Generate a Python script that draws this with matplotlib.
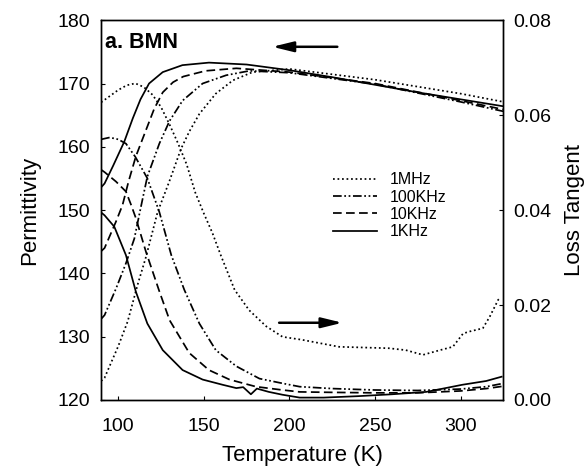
import matplotlib
matplotlib.use('Agg')
import matplotlib.pyplot as plt
from matplotlib.lines import Line2D

plt.rcParams['font.family'] = ['Liberation Sans', 'DejaVu Sans']

# permittivity (left axis)
T_p1k = [90, 92, 97, 103.5, 108.5, 113, 118, 126, 137.5, 153, 175, 200, 225, 250, 275, 300, 325]
p_1k = [153.6, 154.2, 157, 160.8, 164.5, 167.5, 170, 171.8, 172.9, 173.3, 173.0, 172.1, 171.0, 169.8, 168.6, 167.5, 166.4]

T_p10k = [90, 92, 98.7, 102.5, 106, 110.3, 116, 121, 126, 132, 138, 151, 169, 200, 250, 300, 325]
p_10k = [143.5, 144, 148.2, 150.8, 154.5, 158.5, 162.5, 166, 168.6, 170.2, 171.1, 172.0, 172.4, 171.8, 170.0, 167.3, 165.9]

T_p100k = [90, 92, 98.7, 104.5, 109.4, 112.3, 117, 124, 130, 137.6, 149.3, 163, 176.6, 200, 250, 300, 325]
p_100k = [132.8, 133.4, 137.6, 141.6, 145.5, 149.3, 155.3, 160.5, 164.1, 167.3, 170.0, 171.3, 172.0, 171.7, 169.9, 167.1, 165.6]

T_p1M = [90, 92, 100, 105.5, 111.3, 116.2, 123, 129.8, 136.7, 141.5, 147.4, 157, 167, 178.5, 200, 250, 300, 325]
p_1M = [123, 123.5, 128.5, 132.4, 138.2, 142.6, 149.7, 154.5, 159.7, 162.4, 165.2, 168.4, 170.5, 171.8, 172.3, 170.6, 168.4, 167.1]

# loss tangent (right axis)
T_l1k = [90, 92, 97.7, 104.5, 110.3, 117, 126, 137.6, 149.3, 161, 169, 173, 177.5, 181, 188, 196, 206,
         220, 240, 260, 280, 301, 315, 324]
l_1k = [0.0395, 0.0389, 0.0365, 0.0305, 0.0228, 0.0161, 0.0105, 0.0063, 0.0043, 0.0032, 0.0025, 0.0027,
        0.0012, 0.0024, 0.0017, 0.0011, 0.0005, 0.0005, 0.0008, 0.0012, 0.0017, 0.0032, 0.0040, 0.0049]

T_l10k = [90, 92, 98.7, 104.5, 107.5, 110.3, 116.2, 124, 130, 141.5, 153, 165, 180.5, 196, 206, 225, 250,
          275, 300, 315, 325]
l_10k = [0.0485, 0.0480, 0.0460, 0.0439, 0.0411, 0.0383, 0.0312, 0.0229, 0.0168, 0.0099, 0.0063, 0.0043,
         0.0028, 0.0021, 0.0017, 0.0016, 0.0015, 0.0015, 0.0019, 0.0024, 0.0029]

T_l100k = [90, 95, 100, 104.5, 110, 117, 124, 131, 138.6, 147.4, 157, 169, 182.5, 196, 206, 225, 250, 275,
           300, 315, 325]
l_100k = [0.0549, 0.0553, 0.0549, 0.0540, 0.0512, 0.0467, 0.0396, 0.0305, 0.0232, 0.0161, 0.0105, 0.0071,
          0.0045, 0.0035, 0.0028, 0.0024, 0.0021, 0.0020, 0.0023, 0.0028, 0.0035]

T_l1M = [90, 95, 100, 105, 110, 115, 120, 125, 130, 135, 140, 145, 150, 155, 160, 168, 176.5, 186.5, 196,
         207, 229, 258, 268, 278, 288, 295.5, 301.5, 305, 313, 317, 322, 323.5]
l_1M = [0.0627, 0.0640, 0.0653, 0.0663, 0.0667, 0.0659, 0.0643, 0.0617, 0.0580, 0.0540, 0.0496, 0.0437,
        0.0393, 0.0352, 0.0304, 0.0232, 0.0189, 0.0155, 0.0133, 0.0127, 0.0112, 0.0109, 0.0105, 0.0095,
        0.0105, 0.0112, 0.0140, 0.0144, 0.0151, 0.0175, 0.0211, 0.0216]

labels = ['1MHz', '100KHz', '10KHz', '1KHz']

dot = (0, (1, 1.6))
dashdot = (0, (5, 1.5, 1, 1.5, 1, 1.5))
dash = (0, (5, 2.5))
lw = 1.25

fig = plt.figure(figsize=(5.88, 4.70), dpi=100)
ax = fig.add_axes([0.172, 0.149, 0.684, 0.808])
ax2 = ax.twinx()

ax.plot(T_p1M, p_1M, color='k', ls=dot, lw=lw)
ax.plot(T_p100k, p_100k, color='k', ls=dashdot, lw=lw)
ax.plot(T_p10k, p_10k, color='k', ls=dash, lw=lw)
ax.plot(T_p1k, p_1k, color='k', ls='-', lw=lw)

ax2.plot(T_l1M, l_1M, color='k', ls=dot, lw=lw)
ax2.plot(T_l100k, l_100k, color='k', ls=dashdot, lw=lw)
ax2.plot(T_l10k, l_10k, color='k', ls=dash, lw=lw)
ax2.plot(T_l1k, l_1k, color='k', ls='-', lw=lw)

ax.set_xlim(90, 325)
ax.set_ylim(120, 180)
ax2.set_ylim(0, 0.08)
ax.set_xticks([100, 150, 200, 250, 300])
ax.set_yticks([120, 130, 140, 150, 160, 170, 180])
ax2.set_yticks([0, 0.02, 0.04, 0.06, 0.08])
ax2.set_yticklabels(['0.00', '0.02', '0.04', '0.06', '0.08'])

ax.tick_params(axis='both', direction='in', length=3, labelsize=14, width=0.8)
ax.tick_params(axis='y', pad=8)
ax.tick_params(axis='x', pad=13)
ax2.tick_params(axis='y', direction='in', length=3, labelsize=14, pad=7, width=0.8)

ax.set_xlabel('Temperature (K)', fontsize=16, labelpad=7)
ax.set_ylabel('Permittivity', fontsize=16, labelpad=12)
ax2.set_ylabel('Loss Tangent', fontsize=16, labelpad=9)

for a in (ax, ax2):
    for s in a.spines.values():
        s.set_linewidth(1.0)

ax.text(92.4, 175.6, 'a. BMN', fontsize=15.5, fontweight='bold')

arrow = dict(arrowstyle='-|>,head_length=0.9,head_width=0.22', lw=1.8, color='k',
             shrinkA=0, shrinkB=0, mutation_scale=14)
ax.annotate('', xy=(190, 175.8), xytext=(228, 175.8), arrowprops=arrow)
ax.annotate('', xy=(231, 132.2), xytext=(194, 132.2), arrowprops=arrow)

handles = [Line2D([], [], color='k', ls=dot, lw=lw),
           Line2D([], [], color='k', ls=dashdot, lw=lw),
           Line2D([], [], color='k', ls=dash, lw=lw),
           Line2D([], [], color='k', ls='-', lw=lw)]
ax.legend(handles, labels, loc='upper left', bbox_to_anchor=(0.577, 0.60), frameon=False,
          fontsize=11.5, handlelength=2.75, handletextpad=0.8, labelspacing=0.15,
          borderpad=0, borderaxespad=0)

fig.savefig('out.png', dpi=100)
